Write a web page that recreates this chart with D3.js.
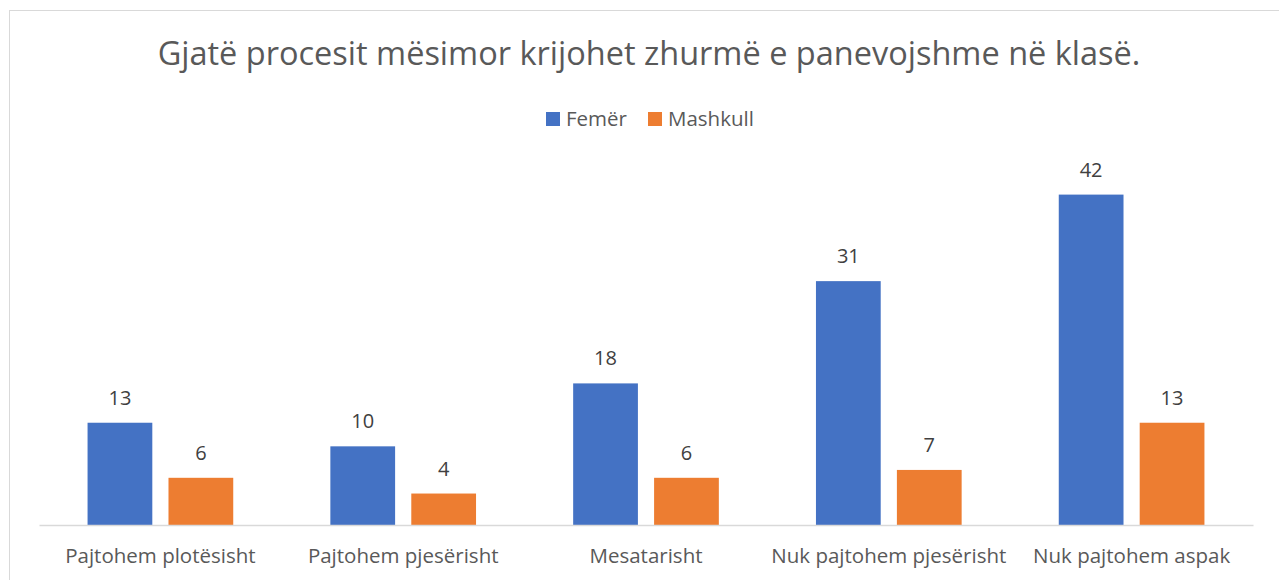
<!DOCTYPE html>
<html>
<head>
<meta charset="utf-8">
<script src="https://cdn.jsdelivr.net/npm/d3@7"></script>
<style>
  body { margin: 0; background: #fff; }
  svg { display: block; font-family: "Open Sans", Lato, sans-serif; }
</style>
</head>
<body>
<svg id="chart"></svg>
<script>
// categories and series values
var categories = ["Pajtohem plotësisht", "Pajtohem pjesërisht", "Mesatarisht", "Nuk pajtohem pjesërisht", "Nuk pajtohem aspak"]
var seriesNames = ["Femër", "Mashkull"]
var femer = [13, 10, 18, 31, 42]
var mashkull = [6, 4, 6, 7, 13]
var colors = ["#4472c4", "#ed7d31"]
var title = "Gjatë procesit mësimor krijohet zhurmë e panevojshme në klasë."

var dimensions = {
    width: 1279,
    height: 580,
    margin: { top: 171, bottom: 55, left: 39, right: 26 }
}

var svg = d3.select("#chart")
    .attr("width", dimensions.width)
    .attr("height", dimensions.height)

// chart area border
svg.append("rect")
    .attr("x", 9.5).attr("y", 10.5)
    .attr("width", 1300).attr("height", 700)
    .attr("fill", "none")
    .attr("stroke", "#d9d9d9")

var data = categories.map((c, i) => ({ cat: c, values: [femer[i], mashkull[i]] }))

var xScale = d3.scaleBand()
    .domain(categories)
    .range([dimensions.margin.left, dimensions.width - dimensions.margin.right])

// bars inside each category: gap width 150%, overlap -25%
var bw = xScale.bandwidth()
var xInner = d3.scaleBand()
    .domain(seriesNames)
    .range([bw * 0.2, bw * 0.8])
    .paddingInner(0.2)

var yScale = d3.scaleLinear()
    .domain([0, 45])
    .range([dimensions.height - dimensions.margin.bottom, dimensions.margin.top])

// title
svg.append("text")
    .attr("x", 649).attr("y", 65)
    .attr("text-anchor", "middle")
    .attr("font-size", 32.5)
    .attr("fill", "#595959")
    .text(title)

// legend
var legend = svg.append("g")
var legendX = [546, 648]
seriesNames.forEach(function(s, i) {
    legend.append("rect")
        .attr("x", legendX[i]).attr("y", 112)
        .attr("width", 14).attr("height", 14)
        .attr("fill", colors[i])
    legend.append("text")
        .attr("x", legendX[i] + 20).attr("y", 126)
        .attr("font-size", 20.5)
        .attr("fill", "#595959")
        .text(s)
})

var groups = svg.selectAll("g.cat")
    .data(data)
    .enter()
    .append("g")
    .attr("class", "cat")
    .attr("transform", d => `translate(${xScale(d.cat)},0)`)

groups.selectAll("rect")
    .data(d => d.values.map((v, i) => ({ name: seriesNames[i], value: v, color: colors[i] })))
    .enter()
    .append("rect")
    .attr("x", d => xInner(d.name))
    .attr("y", d => yScale(d.value))
    .attr("width", xInner.bandwidth())
    .attr("height", d => yScale(0) - yScale(d.value))
    .attr("fill", d => d.color)

groups.selectAll("text.val")
    .data(d => d.values.map((v, i) => ({ name: seriesNames[i], value: v })))
    .enter()
    .append("text")
    .attr("class", "val")
    .attr("x", d => xInner(d.name) + xInner.bandwidth() / 2)
    .attr("y", d => yScale(d.value) - 18)
    .attr("text-anchor", "middle")
    .attr("font-size", 20)
    .attr("fill", "#404040")
    .text(d => d.value)

// x axis
var xAxis = svg.append("g")
    .attr("transform", `translate(0,${yScale(0)})`)
    .call(d3.axisBottom(xScale).tickSize(0).tickPadding(0))

xAxis.select(".domain").attr("stroke", "#d9d9d9").attr("stroke-width", 1.5)
xAxis.selectAll("text")
    .attr("y", 38)
    .attr("dy", 0)
    .attr("font-size", 20.5)
    .attr("font-family", "'Open Sans', Lato, sans-serif")
    .attr("fill", "#595959")
</script>
</body>
</html>
